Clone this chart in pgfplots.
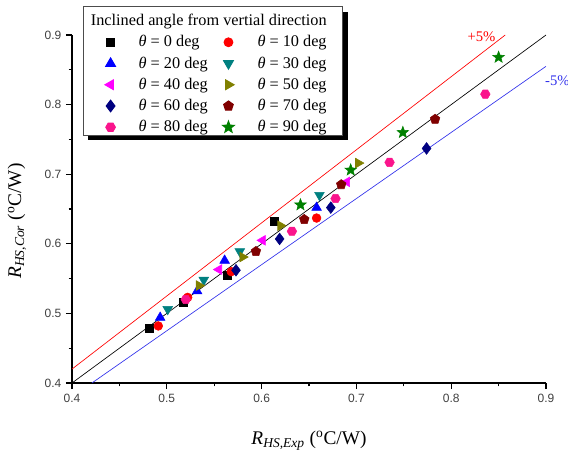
\documentclass[border=0pt]{standalone}
\usepackage{fontspec}
\setmainfont{Liberation Serif}
\setsansfont{Liberation Sans}
\usepackage{pgfplots}
\pgfplotsset{compat=1.18}
\usetikzlibrary{shadows}
\definecolor{cteal}{RGB}{0,128,128}
\definecolor{cmag}{RGB}{255,0,255}
\definecolor{colive}{RGB}{128,128,0}
\definecolor{cnavy}{RGB}{0,0,128}
\definecolor{cdred}{RGB}{128,0,0}
\definecolor{cpink}{RGB}{250,20,140}
\definecolor{cgreen}{RGB}{0,128,0}
\definecolor{cblue}{RGB}{0,0,255}
\definecolor{cred}{RGB}{255,0,0}
\definecolor{lblue}{RGB}{50,50,235}

\pgfdeclareplotmark{hexagon*}{%
  \pgfpathmoveto{\pgfpointpolar{0}{\pgfplotmarksize}}%
  \pgfpathlineto{\pgfpointpolar{60}{\pgfplotmarksize}}%
  \pgfpathlineto{\pgfpointpolar{120}{\pgfplotmarksize}}%
  \pgfpathlineto{\pgfpointpolar{180}{\pgfplotmarksize}}%
  \pgfpathlineto{\pgfpointpolar{240}{\pgfplotmarksize}}%
  \pgfpathlineto{\pgfpointpolar{300}{\pgfplotmarksize}}%
  \pgfpathclose\pgfusepathqfillstroke}
\pgfdeclareplotmark{fstar}{%
  \pgfpathmoveto{\pgfpointpolar{90}{\pgfplotmarksize}}%
  \pgfpathlineto{\pgfpointpolar{126}{0.42\pgfplotmarksize}}%
  \pgfpathlineto{\pgfpointpolar{162}{\pgfplotmarksize}}%
  \pgfpathlineto{\pgfpointpolar{198}{0.42\pgfplotmarksize}}%
  \pgfpathlineto{\pgfpointpolar{234}{\pgfplotmarksize}}%
  \pgfpathlineto{\pgfpointpolar{270}{0.42\pgfplotmarksize}}%
  \pgfpathlineto{\pgfpointpolar{306}{\pgfplotmarksize}}%
  \pgfpathlineto{\pgfpointpolar{342}{0.42\pgfplotmarksize}}%
  \pgfpathlineto{\pgfpointpolar{18}{\pgfplotmarksize}}%
  \pgfpathlineto{\pgfpointpolar{54}{0.42\pgfplotmarksize}}%
  \pgfpathclose\pgfusepathqfillstroke}

\begin{document}
\begin{tikzpicture}
\begin{axis}[
  name=ax, at={(0,0)}, anchor=south west,
  scale only axis, width=355.5pt, height=261pt,
  xmin=0.4, xmax=0.9, ymin=0.4, ymax=0.9,
  axis x line*=bottom, axis y line*=left,
  axis line style={-, line width=0.9pt, black},
  xtick={0.4,0.5,0.6,0.7,0.8,0.9}, ytick={0.4,0.5,0.6,0.7,0.8,0.9},
  minor xtick={0.45,0.55,0.65,0.75,0.85}, minor ytick={0.45,0.55,0.65,0.75,0.85},
  tick align=outside, major tick length=4.5pt, minor tick length=2.5pt,
  tick style={line width=0.8pt, black},
  ticklabel style={font=\sffamily\fontsize{9}{10}\selectfont, text=black!75},
  /pgf/number format/assume math mode=true,
  xlabel={\textit{R}\textsubscript{\textit{HS,Exp}} (\textsuperscript{o}C/W)},
  ylabel={\textit{R}\textsubscript{\textit{HS,Cor}} (\textsuperscript{o}C/W)},
  xlabel style={at={(axis description cs:0.5,0)}, anchor=center, yshift=-43pt, font=\fontsize{14.5}{16}\selectfont},
  ylabel style={at={(axis description cs:-0.116,0.4655)}, anchor=center, rotate=0, font=\fontsize{14.5}{16}\selectfont},
  clip=false,
  legend columns=2,
  legend cell align=left,
  legend style={at={(0.0226,1.0833)}, anchor=north west,
    draw=black!70, line width=0.75pt, fill=white,
    drop shadow={shadow xshift=3.75pt, shadow yshift=-3.75pt, fill=black, opacity=1},
    font=\fontsize{12.2}{14}\selectfont,
    inner xsep=12pt, inner ysep=1pt, row sep=5.9pt,
    nodes={inner sep=0pt},
    /tikz/every odd column/.append style={column sep=17.4pt},
    /tikz/every even column/.append style={column sep=7pt}},
]
\addlegendimage{empty legend}
\addlegendentry{\makebox[0pt][l]{\hspace{-36.3pt}\rule{0pt}{13.4pt}Inclined angle from vertial direction}}
\addlegendimage{empty legend}
\addlegendentry{\mbox{}}

\addplot[forget plot, black, line width=0.5pt] coordinates {(0.4,0.4) (0.9,0.9)};
\addplot[forget plot, cred, line width=0.5pt] coordinates {(0.4,0.42) (0.857,0.9)};
\addplot[forget plot, lblue, line width=0.5pt] coordinates {(0.421,0.4) (0.9,0.855)};

\addplot[only marks, mark=square*, color=black, mark size=3pt] coordinates {
(0.481,0.478) (0.517,0.516) (0.564,0.555) (0.613,0.633)};
\addlegendentry{\textit{θ} = 0 deg}
\addplot[only marks, mark=*, color=cred, mark size=3.3pt] coordinates {
(0.491,0.482) (0.522,0.523) (0.568,0.560) (0.658,0.637)};
\addlegendentry{\textit{θ} = 10 deg}
\addplot[only marks, mark=triangle*, color=cblue, mark size=4.2pt] coordinates {
(0.493,0.494) (0.532,0.532) (0.561,0.576) (0.658,0.652)};
\addlegendentry{\textit{θ} = 20 deg}
\addplot[only marks, mark=triangle*, mark options={rotate=180}, color=cteal, mark size=4.2pt] coordinates {
(0.501,0.506) (0.539,0.548) (0.577,0.589) (0.661,0.670)};
\addlegendentry{\textit{θ} = 30 deg}
\addplot[only marks, mark=triangle*, mark options={rotate=90}, color=cmag, mark size=4.2pt] coordinates {
(0.555,0.563) (0.601,0.605) (0.690,0.689)};
\addlegendentry{\textit{θ} = 40 deg}
\addplot[only marks, mark=triangle*, mark options={rotate=-90}, color=colive, mark size=4.2pt] coordinates {
(0.534,0.540) (0.580,0.581) (0.620,0.626) (0.702,0.716)};
\addlegendentry{\textit{θ} = 50 deg}
\addplot[only marks, mark=diamond*, color=cnavy, mark size=4.4pt] coordinates {
(0.573,0.562) (0.619,0.607) (0.673,0.652) (0.774,0.737)};
\addlegendentry{\textit{θ} = 60 deg}
\addplot[only marks, mark=pentagon*, color=cdred, mark size=3.8pt] coordinates {
(0.594,0.589) (0.645,0.635) (0.684,0.685) (0.783,0.779)};
\addlegendentry{\textit{θ} = 70 deg}
\addplot[only marks, mark=hexagon*, color=cpink, mark size=3.6pt] coordinates {
(0.520,0.520) (0.632,0.618) (0.678,0.665) (0.735,0.717) (0.836,0.815)};
\addlegendentry{\textit{θ} = 80 deg}
\addplot[only marks, mark=fstar, color=cgreen, mark size=4.6pt] coordinates {
(0.641,0.656) (0.694,0.706) (0.749,0.760) (0.850,0.868)};
\addlegendentry{\textit{θ} = 90 deg}

\node[text=cred, font=\fontsize{11}{12}\selectfont] at (axis cs:0.832,0.898) {+5\%};
\node[text=lblue, font=\fontsize{11}{12}\selectfont] at (axis cs:0.912,0.835) {-5\%};
\end{axis}
\pgfresetboundingbox
\path (ax.south west) ++(-54pt,-53.25pt) rectangle ++(426pt,340.5pt);
\end{tikzpicture}
\end{document}
